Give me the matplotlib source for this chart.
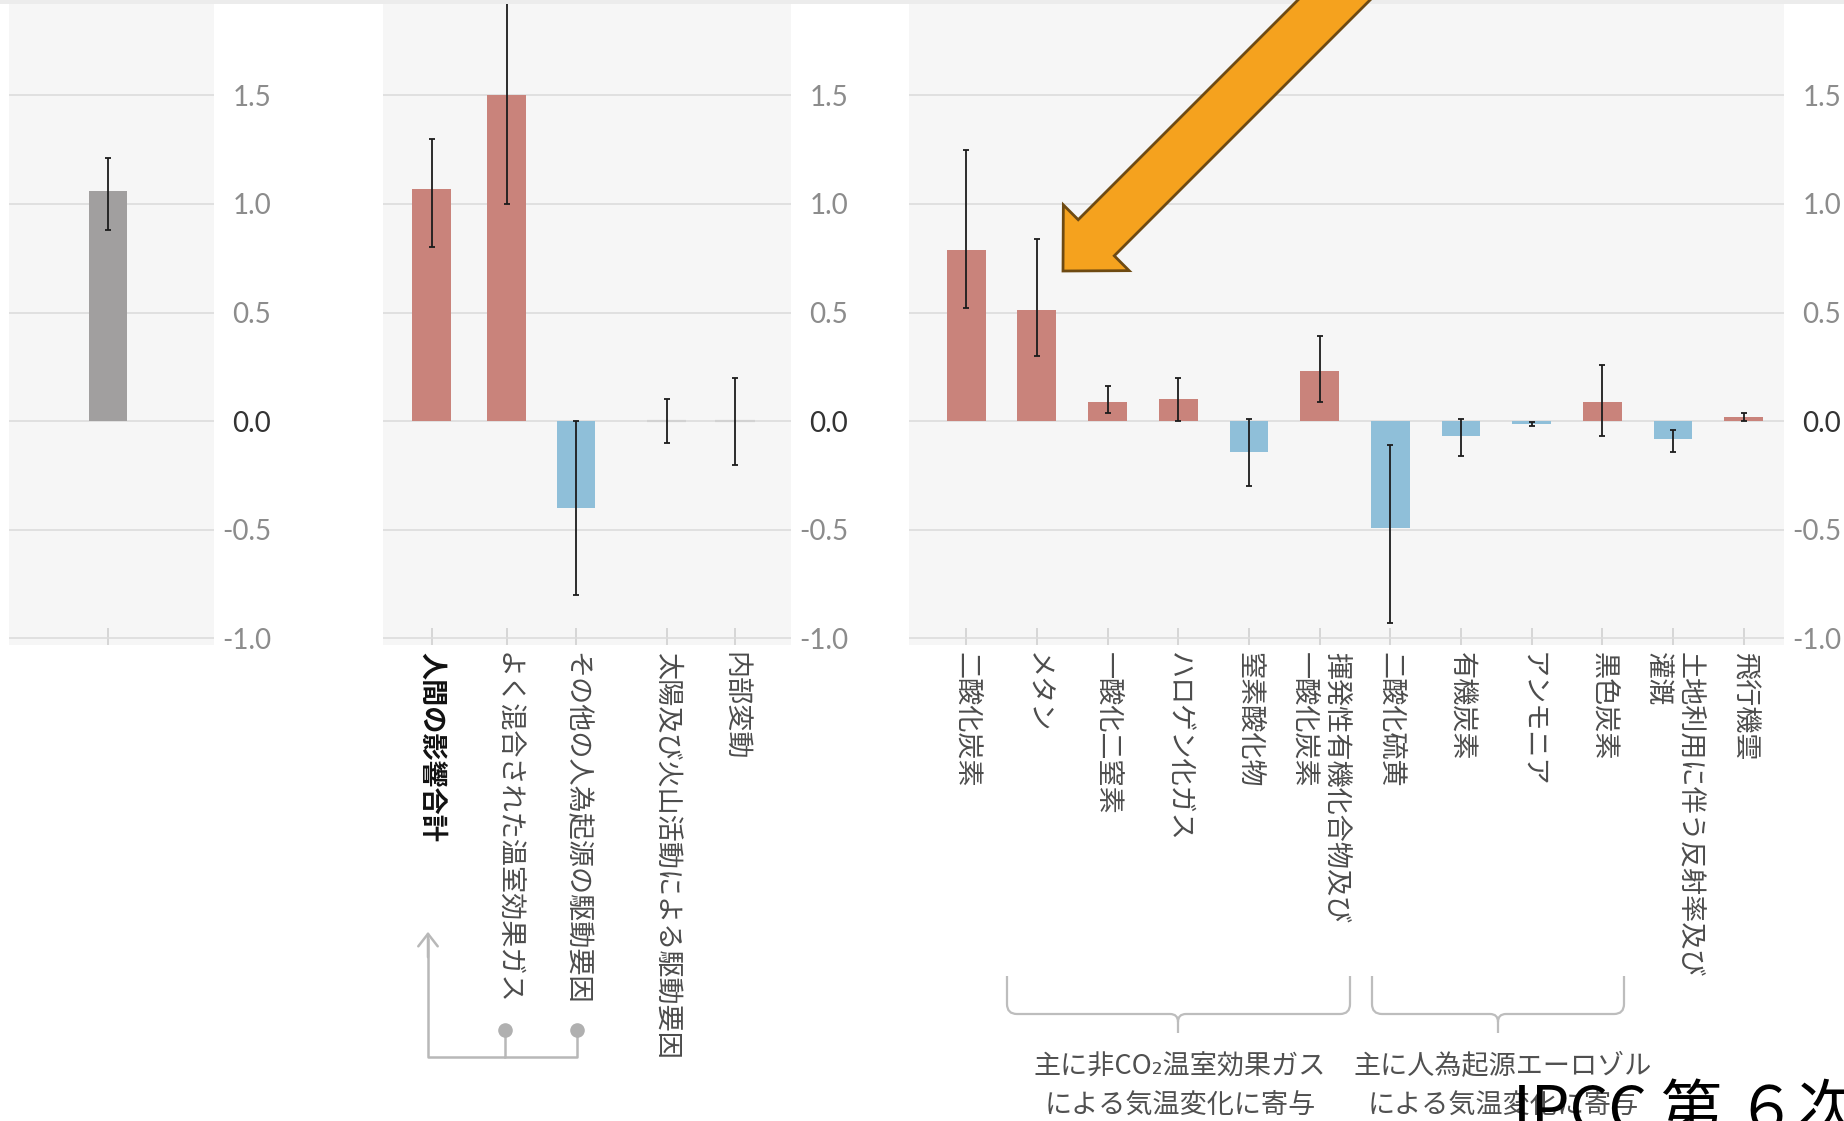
import matplotlib
matplotlib.use("Agg")
import matplotlib.pyplot as plt
from matplotlib.patches import FancyArrow, FancyArrowPatch, PathPatch, Rectangle
from matplotlib.path import Path

plt.rcParams['font.family'] = ['Noto Sans CJK JP', 'DejaVu Sans']
plt.rcParams['axes.unicode_minus'] = False

# observed warming 2010-2019 vs 1850-1900
observed_val = [1.06]
observed_lo = [0.88]
observed_hi = [1.21]

# aggregated contributions
contrib_labels = ['人間の影響合計', 'よく混合された温室効果ガス', 'その他の人為起源の駆動要因',
                  '太陽及び火山活動による駆動要因', '内部変動']
contrib_val = [1.07, 1.50, -0.40, 0.00, 0.00]
contrib_lo = [0.80, 1.00, -0.80, -0.10, -0.20]
contrib_hi = [1.30, 2.00, 0.00, 0.10, 0.20]

# contributions by emitted substance
forcer_labels = ['二酸化炭素', 'メタン', '一酸化二窒素', 'ハロゲン化ガス', '窒素酸化物',
                 '揮発性有機化合物及び\n一酸化炭素', '二酸化硫黄', '有機炭素', 'アンモニア',
                 '黒色炭素', '土地利用に伴う反射率及び\n灌漑', '飛行機雲']
forcer_val = [0.79, 0.51, 0.09, 0.10, -0.14, 0.23, -0.49, -0.07, -0.013, 0.09, -0.08, 0.02]
forcer_lo = [0.52, 0.30, 0.04, 0.00, -0.30, 0.09, -0.93, -0.16, -0.022, -0.07, -0.14, 0.00]
forcer_hi = [1.25, 0.84, 0.16, 0.20, 0.01, 0.39, -0.11, 0.01, -0.006, 0.26, -0.04, 0.04]

group_notes = [['主に非CO₂温室効果ガス', 'による気温変化に寄与'],
               ['主に人為起源エーロゾル', 'による気温変化に寄与']]

y_ticks = [-1.0, -0.5, 0.0, 0.5, 1.0, 1.5]
y_ticklabels = ['-1.0', '-0.5', '0.0', '0.5', '1.0', '1.5']

RED = '#c9837b'
BLUE = '#8fbfd9'
GRAY = '#a19f9f'

W, H = 1844, 1121
fig = plt.figure(figsize=(W / 100, H / 100), dpi=100)
fig.patch.set_facecolor('white')


def panel(left, right, xlim):
    ax = fig.add_axes([left / W, 1 - 645 / H, (right - left) / W, (645 - 4) / H])
    ax.set_facecolor('#f6f6f6')
    ax.set_xlim(*xlim)
    ax.set_ylim(-1.03, 1.92)
    ax.set_yticks(y_ticks)
    ax.set_yticklabels(y_ticklabels)
    ax.grid(axis='y', color='#dcdcdc', lw=1.2)
    ax.set_axisbelow(True)
    for s in ax.spines.values():
        s.set_visible(False)
    ax.tick_params(axis='y', length=0, labelleft=False, labelright=True, pad=41,
                   labelsize=20, labelcolor='#8c8c8c', labelfontfamily='Lato')
    for lbl in ax.get_yticklabels():
        lbl.set_ha('right')
        if lbl.get_text() == '0.0':
            lbl.set_color('#333333')
    ax.tick_params(axis='x', direction='in', length=12, width=1.2, color='#d0d0d0', pad=5)
    return ax


def draw_bars(ax, x, val, lo, hi, colors):
    for xi, v, c in zip(x, val, colors):
        if v == 0:
            ax.hlines(0, xi - 0.28, xi + 0.28, color='#d2d2d2', lw=1.6, zorder=2)
        else:
            ax.bar(xi, v, width=0.55, color=c, zorder=2)
    yerr = [[v - l for v, l in zip(val, lo)], [h - v for v, h in zip(val, hi)]]
    ax.errorbar(x, val, yerr=yerr, fmt='none', ecolor='#1c1c1c', elinewidth=1.3,
                capsize=2.5, capthick=1.3, zorder=3)


def sign_colors(vals):
    return [RED if v > 0 else BLUE for v in vals]


def set_labels(ax, x, labels):
    ax.set_xticks(x)
    ax.set_xticklabels(labels, rotation=-90, va='top', ha='center', fontsize=19.5, color='#4c4c4c')
    for lbl in ax.get_xticklabels():
        lbl.set_multialignment('left')


# panel a: observed
ax1 = panel(9, 214, (-1.40, 1.50))
draw_bars(ax1, [0], observed_val, observed_lo, observed_hi, [GRAY])
ax1.set_xticks([0])
ax1.set_xticklabels([''])

# panel b: aggregated contributions
contrib_x = [0, 1.06, 2.04, 3.32, 4.29]
ax2 = panel(383, 791, (-0.69, 5.08))
draw_bars(ax2, contrib_x, contrib_val, contrib_lo, contrib_hi, sign_colors(contrib_val))
set_labels(ax2, contrib_x, contrib_labels)
first = ax2.get_xticklabels()[0]
first.set_fontweight('bold')
first.set_color('#111111')

# panel c: by substance
forcer_x = list(range(len(forcer_labels)))
ax3 = panel(909, 1784, (-0.81, 11.57))
draw_bars(ax3, forcer_x, forcer_val, forcer_lo, forcer_hi, sign_colors(forcer_val))
set_labels(ax3, forcer_x, forcer_labels)

# overlay in pixel coordinates for connectors, braces and the pointer
ov = fig.add_axes([0, 0, 1, 1], zorder=10)
ov.set_xlim(0, W)
ov.set_ylim(H, 0)
ov.axis('off')
ov.patch.set_alpha(0)

ov.add_patch(Rectangle((0, 0), W, 4, color='#ececec', lw=0))

# connector: two components feeding into the total
LINE = '#b8b8b8'
ov.plot([505, 505, 428, 428], [1030, 1057, 1057, 938], color=LINE, lw=1.8, solid_capstyle='butt')
ov.plot([577, 577, 505], [1030, 1057, 1057], color=LINE, lw=1.8)
ov.add_patch(FancyArrowPatch((428, 960), (428, 929), arrowstyle='->,head_length=0.45,head_width=0.35',
                             mutation_scale=20, color=LINE, lw=1.8))
ov.scatter([505, 577], [1030, 1030], s=90, color='#b0b0b0', zorder=5)


def brace(x0, x1, xc, ytop=976, ymid=1014, ystem=1033, r=10, r2=8):
    verts = [(x0, ytop), (x0, ymid - r), (x0, ymid), (x0 + r, ymid), (xc - r2, ymid),
             (xc, ymid), (xc, ymid + r2), (xc, ystem),
             (x1, ytop), (x1, ymid - r), (x1, ymid), (x1 - r, ymid), (xc + r2, ymid),
             (xc, ymid), (xc, ymid + r2)]
    codes = [Path.MOVETO, Path.LINETO, Path.CURVE3, Path.CURVE3, Path.LINETO,
             Path.CURVE3, Path.CURVE3, Path.LINETO,
             Path.MOVETO, Path.LINETO, Path.CURVE3, Path.CURVE3, Path.LINETO,
             Path.CURVE3, Path.CURVE3]
    ov.add_patch(PathPatch(Path(verts, codes), fill=False, ec='#bdbdbd', lw=1.6))


brace(1007, 1350, 1178)
brace(1372, 1624, 1498)

for cx, lines in zip([1180, 1503], group_notes):
    ov.text(cx, 1067, lines[0], ha='center', va='center', fontsize=19.5, color='#505050')
    ov.text(cx, 1105, lines[1], ha='center', va='center', fontsize=19.5, color='#505050')

# highlight pointer on methane
ov.add_patch(FancyArrow(1374, -40, -311, 311, width=51, head_width=93, head_length=47,
                        length_includes_head=True, fc='#f5a21e', ec='#6e4a12', lw=2))

ov.text(1513, 1082, 'IPCC 第 ６次評価報告書', ha='left', va='top', fontsize=44, color='black')

fig.savefig('out.png', dpi=100)
